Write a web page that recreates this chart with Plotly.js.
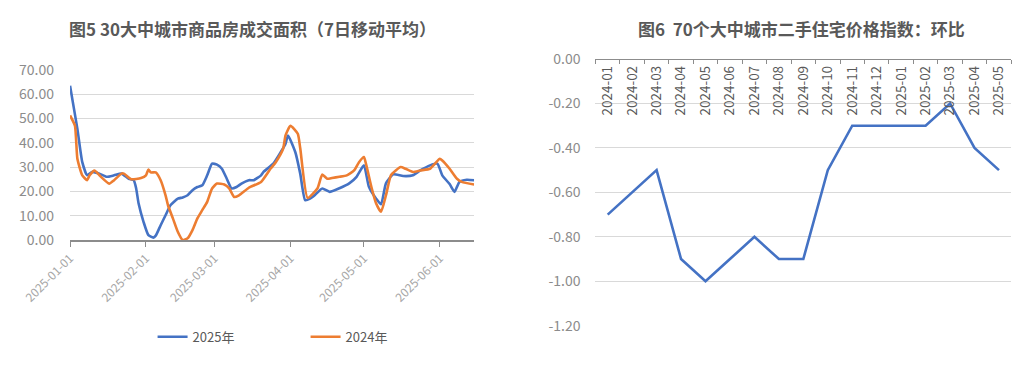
<!DOCTYPE html>
<html>
<head>
<meta charset="utf-8">
<script src="https://cdn.plot.ly/plotly-3.0.1.min.js"></script>
<style>
html,body{margin:0;padding:0;background:#fff;}
#chart{width:1024px;height:371px;}
</style>
</head>
<body>
<div id="chart"></div>
<script>
// ---- Left chart data: 30大中城市商品房成交面积（7日移动平均） ----
const dates2025 = ['2025-01-01','2025-01-04','2025-01-06','2025-01-08','2025-01-10','2025-01-13','2025-01-16','2025-01-19','2025-01-22','2025-01-25','2025-01-27','2025-01-28','2025-01-29','2025-01-31','2025-02-02','2025-02-04','2025-02-05','2025-02-07','2025-02-09','2025-02-11','2025-02-14','2025-02-16','2025-02-18','2025-02-20','2025-02-22','2025-02-24','2025-02-26','2025-02-28','2025-03-02','2025-03-04','2025-03-06','2025-03-08','2025-03-10','2025-03-12','2025-03-15','2025-03-17','2025-03-20','2025-03-21','2025-03-25','2025-03-28','2025-03-30','2025-03-31','2025-04-03','2025-04-05','2025-04-07','2025-04-09','2025-04-11','2025-04-14','2025-04-17','2025-04-21','2025-04-25','2025-04-28','2025-05-01','2025-05-03','2025-05-06','2025-05-08','2025-05-10','2025-05-13','2025-05-17','2025-05-21','2025-05-24','2025-05-28','2025-05-31','2025-06-02','2025-06-05','2025-06-07','2025-06-09','2025-06-12','2025-06-15'];
const values2025 = [63.4,45.7,32,26.6,28,27.3,26,26.6,27.3,25.2,24.6,21.2,15,7.5,2,1,1.8,6.1,10.2,14.3,17,17.5,18.4,20.5,21.8,22.5,26.6,31.4,31,29.3,25.2,21.2,21.8,23.2,24.6,24.6,26.6,28,31.4,36.1,39.6,43,36.1,27.3,16.4,17,18.5,21.2,19.8,21.3,23.3,26,30.7,22,17,14.7,23.3,27,26.3,26.6,28.6,30.7,31.4,26.6,23,19.8,23.9,24.8,24.6];

const dates2024 = ['2025-01-01','2025-01-03','2025-01-04','2025-01-06','2025-01-08','2025-01-09','2025-01-11','2025-01-13','2025-01-17','2025-01-19','2025-01-22','2025-01-23','2025-01-26','2025-01-30','2025-02-01','2025-02-02','2025-02-03','2025-02-05','2025-02-07','2025-02-09','2025-02-10','2025-02-12','2025-02-14','2025-02-16','2025-02-18','2025-02-20','2025-02-22','2025-02-24','2025-02-26','2025-02-28','2025-03-02','2025-03-05','2025-03-07','2025-03-09','2025-03-11','2025-03-15','2025-03-20','2025-03-24','2025-03-26','2025-03-29','2025-03-30','2025-04-01','2025-04-04','2025-04-05','2025-04-08','2025-04-12','2025-04-14','2025-04-16','2025-04-18','2025-04-21','2025-04-24','2025-04-27','2025-04-29','2025-05-01','2025-05-02','2025-05-04','2025-05-06','2025-05-08','2025-05-10','2025-05-12','2025-05-14','2025-05-16','2025-05-18','2025-05-21','2025-05-24','2025-05-28','2025-05-30','2025-06-01','2025-06-02','2025-06-05','2025-06-08','2025-06-10','2025-06-15'];
const values2024 = [51.2,47,33.4,26.6,24.6,26.6,28.6,26.6,23.2,24.6,27.3,27.3,25,25.5,26.6,29,27.8,27.8,24.6,18.4,14.3,8.9,3.4,0,0.7,4.1,8.9,12.3,15.7,21.2,23.2,22.8,21.2,17.7,18.4,21.5,23.9,29.5,32,37.5,43,47,43.7,37.7,17.3,21.2,26.9,25.2,25.5,26,26.6,28.6,32,34.1,30.7,22,15,11.6,18.4,26.6,28.6,30,29.3,28,28.6,29.3,31.4,33.4,32.7,29.3,25.2,23.9,22.8];

const leftYTicks = [0,10,20,30,40,50,60,70];
const leftMonthTicks = ['2025-01-01','2025-02-01','2025-03-01','2025-04-01','2025-05-01','2025-06-01'];

// ---- Right chart data: 70个大中城市二手住宅价格指数：环比 ----
const months = ['2024-01','2024-02','2024-03','2024-04','2024-05','2024-06','2024-07','2024-08','2024-09','2024-10','2024-11','2024-12','2025-01','2025-02','2025-03','2025-04','2025-05'];
const momIndex = [-0.7,-0.6,-0.5,-0.9,-1.0,-0.9,-0.8,-0.9,-0.9,-0.5,-0.3,-0.3,-0.3,-0.3,-0.2,-0.4,-0.5];
const rightYTicks = [0,-0.2,-0.4,-0.6,-0.8,-1.0,-1.2];
const rightYTickText = ['0.00','-0.20','-0.40','-0.60','-0.80','-1.00','-1.20'];

const FONT = '"Noto Sans CJK SC", "Noto Sans", sans-serif';
const BLUE = '#4472C4', ORANGE = '#ED7D31';

const traces = [
  {x: dates2025, y: values2025, name: '2025年', type: 'scatter', mode: 'lines',
   line: {color: BLUE, width: 2.6, shape: 'spline', smoothing: 0.5}, xaxis: 'x', yaxis: 'y'},
  {x: dates2024, y: values2024, name: '2024年', type: 'scatter', mode: 'lines',
   line: {color: ORANGE, width: 2.6, shape: 'spline', smoothing: 0.5}, xaxis: 'x', yaxis: 'y'},
  {x: months, y: momIndex, name: '环比', type: 'scatter', mode: 'lines', showlegend: false,
   line: {color: BLUE, width: 2.6}, xaxis: 'x2', yaxis: 'y2'}
];

const layout = {
  width: 1024, height: 371,
  margin: {l: 0, r: 0, t: 0, b: 0},
  paper_bgcolor: '#ffffff', plot_bgcolor: '#ffffff',
  font: {family: FONT, color: '#595959', size: 12},
  showlegend: true,
  legend: {orientation: 'h', x: 0.149, y: 0.092, xanchor: 'left', yanchor: 'middle',
           font: {family: FONT, size: 13, color: '#595959'}, entrywidth: 108, entrywidthmode: 'pixels',
           bgcolor: 'rgba(0,0,0,0)'},
  xaxis: {
    type: 'date', domain: [0.0684, 0.463], anchor: 'y',
    range: ['2025-01-01', '2025-06-15'],
    tickvals: leftMonthTicks, tickformat: '%Y-%m-%d', tickangle: -45,
    ticks: 'outside', ticklen: 5, tickcolor: '#8c8c8c', tickwidth: 1,
    showline: true, linecolor: '#8c8c8c', linewidth: 1.5,
    showgrid: false, zeroline: false,
    tickfont: {family: FONT, size: 12, color: '#a6a6a6'}
  },
  yaxis: {
    domain: [0.353, 0.812], anchor: 'x', range: [0, 70],
    tickvals: leftYTicks, tickformat: '.2f',
    showgrid: true, gridcolor: '#d9d9d9', gridwidth: 1,
    showline: false, zeroline: false, ticks: '',
    ticklabelstandoff: 15,
    tickfont: {family: FONT, size: 14, color: '#8c8c8c'}
  },
  xaxis2: {
    type: 'category', domain: [0.5815, 0.9875], anchor: 'free', position: 0.841, side: 'bottom',
    range: [-0.5, 16.5], tickangle: -90, tickson: 'boundaries',
    ticks: 'outside', ticklen: 4, tickcolor: '#8c8c8c',
    showline: true, linecolor: '#8c8c8c', linewidth: 1.5,
    showgrid: false, zeroline: false,
    tickfont: {family: FONT, size: 13.5, color: '#595959'}
  },
  yaxis2: {
    domain: [0.122, 0.841], anchor: 'x2', range: [-1.2, 0],
    tickvals: rightYTicks, ticktext: rightYTickText,
    showgrid: true, gridcolor: '#d9d9d9', gridwidth: 1,
    showline: false, zeroline: false, ticks: '',
    ticklabelstandoff: 14,
    tickfont: {family: FONT, size: 14, color: '#8c8c8c'}
  },
  annotations: [
    {text: '<b>图5 30大中城市商品房成交面积（7日移动平均）</b>', xref: 'paper', yref: 'paper',
     x: 0.247, y: 0.922, xanchor: 'center', yanchor: 'middle', showarrow: false,
     font: {family: FONT, size: 17, color: '#595959'}},
    {text: '<b>图6  70个大中城市二手住宅价格指数：环比</b>', xref: 'paper', yref: 'paper',
     x: 0.783, y: 0.922, xanchor: 'center', yanchor: 'middle', showarrow: false,
     font: {family: FONT, size: 17, color: '#595959'}}
  ]
};

Plotly.newPlot('chart', traces, layout, {displayModeBar: false, staticPlot: true});
</script>
</body>
</html>
